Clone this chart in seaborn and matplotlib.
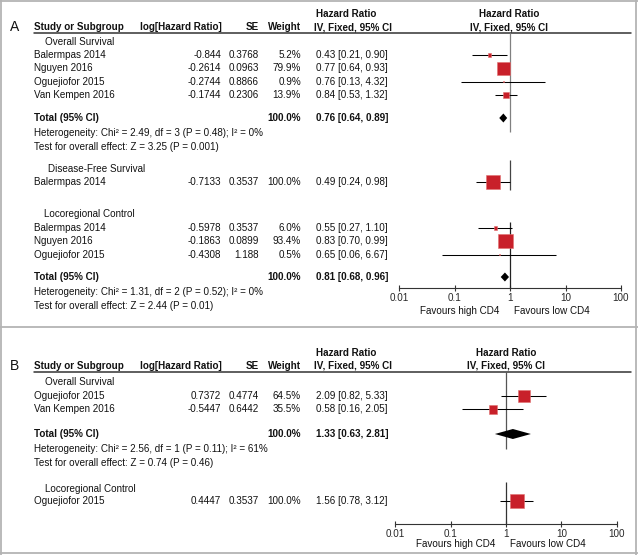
import matplotlib
matplotlib.use("Agg")
import matplotlib.pyplot as plt
from matplotlib.ticker import NullLocator
import seaborn as sns
import pandas as pd

# ---- Panel A: overall survival ----
a_os_study = ["Balermpas 2014", "Nguyen 2016", "Oguejiofor 2015", "Van Kempen 2016"]
a_os_loghr = ["-0.844", "-0.2614", "-0.2744", "-0.1744"]
a_os_se = ["0.3768", "0.0963", "0.8866", "0.2306"]
a_os_weight = [5.2, 79.9, 0.9, 13.9]
a_os_hr = [0.43, 0.77, 0.76, 0.84]
a_os_lo = [0.21, 0.64, 0.13, 0.53]
a_os_hi = [0.90, 0.93, 4.32, 1.32]
a_os_total = [0.76, 0.64, 0.89]
a_os_het = "Heterogeneity: Chi² = 2.49, df = 3 (P = 0.48); I² = 0%"
a_os_test = "Test for overall effect: Z = 3.25 (P = 0.001)"

# ---- Panel A: disease-free survival ----
a_dfs_study = ["Balermpas 2014"]
a_dfs_loghr = ["-0.7133"]
a_dfs_se = ["0.3537"]
a_dfs_weight = [100.0]
a_dfs_hr = [0.49]
a_dfs_lo = [0.24]
a_dfs_hi = [0.98]

# ---- Panel A: locoregional control ----
a_lrc_study = ["Balermpas 2014", "Nguyen 2016", "Oguejiofor 2015"]
a_lrc_loghr = ["-0.5978", "-0.1863", "-0.4308"]
a_lrc_se = ["0.3537", "0.0899", "1.188"]
a_lrc_weight = [6.0, 93.4, 0.5]
a_lrc_hr = [0.55, 0.83, 0.65]
a_lrc_lo = [0.27, 0.70, 0.06]
a_lrc_hi = [1.10, 0.99, 6.67]
a_lrc_total = [0.81, 0.68, 0.96]
a_lrc_het = "Heterogeneity: Chi² = 1.31, df = 2 (P = 0.52); I² = 0%"
a_lrc_test = "Test for overall effect: Z = 2.44 (P = 0.01)"

# ---- Panel B: overall survival ----
b_os_study = ["Oguejiofor 2015", "Van Kempen 2016"]
b_os_loghr = ["0.7372", "-0.5447"]
b_os_se = ["0.4774", "0.6442"]
b_os_weight = [64.5, 35.5]
b_os_hr = [2.09, 0.58]
b_os_lo = [0.82, 0.16]
b_os_hi = [5.33, 2.05]
b_os_total = [1.33, 0.63, 2.81]
b_os_het = "Heterogeneity: Chi² = 2.56, df = 1 (P = 0.11); I² = 61%"
b_os_test = "Test for overall effect: Z = 0.74 (P = 0.46)"

# ---- Panel B: locoregional control ----
b_lrc_study = ["Oguejiofor 2015"]
b_lrc_loghr = ["0.4447"]
b_lrc_se = ["0.3537"]
b_lrc_weight = [100.0]
b_lrc_hr = [1.56]
b_lrc_lo = [0.78]
b_lrc_hi = [3.12]

tick_values = [0.01, 0.1, 1, 10, 100]
tick_labels = ["0.01", "0.1", "1", "10", "100"]

W, H = 638, 555
FS = 7.1
ROW = 13.3
RED = '#c8202a'

sns.set_theme(style="white")
plt.rcParams['font.family'] = ['Liberation Sans', 'DejaVu Sans']

fig = plt.figure(figsize=(W / 100, H / 100), dpi=100)
bg = fig.add_axes([0, 0, 1, 1])
bg.set_xlim(0, W)
bg.set_ylim(H, 0)
bg.axis('off')

# frame and divider
frame = '#b4b4b4'
for xs, ys in [([1, 1], [0, H]), ([W - 2, W - 2], [0, H]), ([0, W], [1, 1]),
               ([0, W], [H - 2, H - 2]), ([0, W], [327, 327])]:
    bg.plot(xs, ys, color=frame, lw=1.3, solid_capstyle='butt')


def txt(x, y, s, ha='left', bold=False, size=FS):
    bg.text(x, y, s, ha=ha, va='center', fontsize=size,
            fontweight='bold' if bold else 'normal', color='#111111')


def forest_axes(x0, x1, y0, y1):
    ax = fig.add_axes([x0 / W, 1 - y1 / H, (x1 - x0) / W, (y1 - y0) / H])
    ax.patch.set_alpha(0)
    for s in ['top', 'left', 'right']:
        ax.spines[s].set_visible(False)
    ax.spines['bottom'].set_color('#333333')
    ax.spines['bottom'].set_linewidth(0.8)
    return ax


def finish_axes(ax, y0, y1):
    ax.set_xscale('log')
    ax.set_xlim(0.01, 100)
    ax.set_ylim(y1, y0)
    ax.set_xticks(tick_values)
    ax.set_xticklabels(tick_labels, fontsize=FS)
    ax.xaxis.set_minor_locator(NullLocator())
    ax.tick_params(axis='x', bottom=True, direction='inout', length=4.5,
                   width=0.8, pad=1.5, color='#333333')
    ax.set_yticks([])
    ax.set_xlabel('')
    ax.set_ylabel('')


def header(label, y_line, x_mid):
    txt(10, y_line - 6, label, size=10)
    txt(34, y_line - 6, "Study or Subgroup", bold=True)
    txt(222, y_line - 6, "log[Hazard Ratio]", ha='right', bold=True)
    txt(259, y_line - 6, "SE", ha='right', bold=True)
    txt(301, y_line - 6, "Weight", ha='right', bold=True)
    txt(316, y_line - 19, "Hazard Ratio", bold=True)
    txt(314, y_line - 6, "IV, Fixed, 95% CI", bold=True)
    txt(x_mid, y_line - 19, "Hazard Ratio", ha='center', bold=True)
    txt(x_mid, y_line - 6, "IV, Fixed, 95% CI", ha='center', bold=True)
    bg.plot([34, 631], [y_line, y_line], color='#333333', lw=1.1)


def studies(ax, y_first, names, loghr, se, weight, hr, lo, hi):
    ys = [y_first + i * ROW for i in range(len(names))]
    for y, n, l, s, w, h, a, b in zip(ys, names, loghr, se, weight, hr, lo, hi):
        txt(34, y, n)
        txt(221, y, l, ha='right')
        txt(259, y, s, ha='right')
        txt(301, y, f"{w:.1f}%", ha='right')
        txt(316, y, f"{h:.2f} [{a:.2f}, {b:.2f}]")
    ax.hlines(ys, lo, hi, color='black', lw=0.75, zorder=2)
    df = pd.DataFrame({'hr': hr, 'y': ys, 'w': weight})
    sns.scatterplot(data=df, x='hr', y='y', size='w', sizes=(0, 110),
                    size_norm=(0, 100), marker='s', color=RED,
                    edgecolor='#e07070', linewidth=0.4, legend=False,
                    ax=ax, zorder=3)


def total(ax, y, tot, het, test, half_h):
    txt(34, y, "Total (95% CI)", bold=True)
    txt(301, y, "100.0%", ha='right', bold=True)
    txt(316, y, f"{tot[0]:.2f} [{tot[1]:.2f}, {tot[2]:.2f}]", bold=True)
    txt(34, y + 15, het)
    txt(34, y + 29, test)
    ax.fill([tot[1], tot[0], tot[2], tot[0]],
            [y, y - half_h, y, y + half_h], color='black', lw=0, zorder=3)


def favours(y, x_one):
    txt(x_one - 11, y, "Favours high CD4", ha='right')
    txt(x_one + 4, y, "Favours low CD4")


# ---------------- Panel A ----------------
A_top, A_axis = 33, 288
header("A", A_top, 509)
axA = forest_axes(399, 621, A_top, A_axis)

txt(45, 42, "Overall Survival")
studies(axA, 55, a_os_study, a_os_loghr, a_os_se, a_os_weight,
        a_os_hr, a_os_lo, a_os_hi)
total(axA, 118, a_os_total, a_os_het, a_os_test, 4.5)
axA.vlines(1, A_top, 132, color='#808080', lw=0.9, zorder=1)

txt(48, 169, "Disease-Free Survival")
studies(axA, 182, a_dfs_study, a_dfs_loghr, a_dfs_se, a_dfs_weight,
        a_dfs_hr, a_dfs_lo, a_dfs_hi)
axA.vlines(1, 160, 190, color='#444444', lw=0.9, zorder=1)

txt(44, 214, "Locoregional Control")
studies(axA, 228, a_lrc_study, a_lrc_loghr, a_lrc_se, a_lrc_weight,
        a_lrc_hr, a_lrc_lo, a_lrc_hi)
total(axA, 277, a_lrc_total, a_lrc_het, a_lrc_test, 4.5)
axA.vlines(1, 222, A_axis, color='#222222', lw=0.9, zorder=1)
finish_axes(axA, A_top, A_axis)
favours(311, 510)

# ---------------- Panel B ----------------
B_top, B_axis = 372, 524
header("B", B_top, 506)
axB = forest_axes(395, 617, B_top, B_axis)

txt(45, 382, "Overall Survival")
studies(axB, 396, b_os_study, b_os_loghr, b_os_se, b_os_weight,
        b_os_hr, b_os_lo, b_os_hi)
total(axB, 434, b_os_total, b_os_het, b_os_test, 5)
axB.vlines(1, B_top, 449, color='#555555', lw=0.9, zorder=1)

txt(45, 489, "Locoregional Control")
studies(axB, 501, b_lrc_study, b_lrc_loghr, b_lrc_se, b_lrc_weight,
        b_lrc_hr, b_lrc_lo, b_lrc_hi)
axB.vlines(1, 482, B_axis, color='#333333', lw=0.9, zorder=1)
finish_axes(axB, B_top, B_axis)
favours(544, 506)

fig.savefig("out.png", dpi=100)
